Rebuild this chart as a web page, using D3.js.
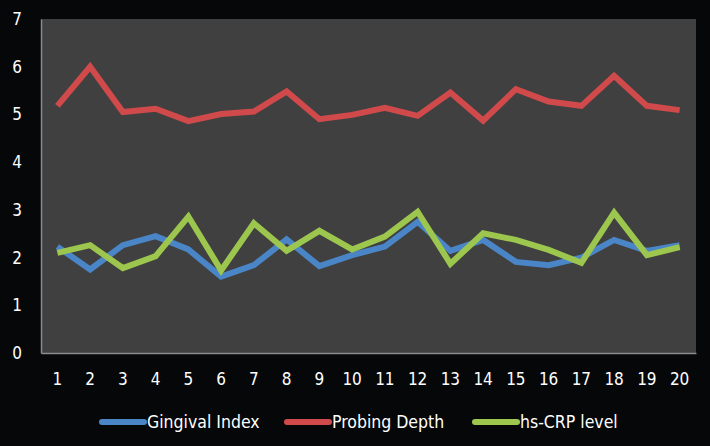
<!DOCTYPE html>
<html>
<head>
<meta charset="utf-8">
<script src="https://cdn.jsdelivr.net/npm/d3@7"></script>
<style>
  html, body { margin: 0; padding: 0; background: #050708; }
  svg { display: block; }
</style>
</head>
<body>
<div id="chart"></div>
<script>
const categories = d3.range(1, 21).map(String)
const gingivalIndex = [2.23, 1.75, 2.26, 2.45, 2.17, 1.6, 1.84, 2.38, 1.82, 2.05, 2.23, 2.75, 2.14, 2.37, 1.91, 1.84, 2.0, 2.37, 2.14, 2.26]
const probingDepth = [5.18, 6.0, 5.05, 5.12, 4.86, 5.01, 5.06, 5.48, 4.9, 4.99, 5.14, 4.97, 5.46, 4.87, 5.53, 5.27, 5.18, 5.81, 5.18, 5.09]
const hsCrpLevel = [2.1, 2.26, 1.78, 2.03, 2.86, 1.73, 2.72, 2.14, 2.56, 2.17, 2.44, 2.96, 1.87, 2.51, 2.37, 2.16, 1.89, 2.94, 2.05, 2.22]
const yTicks = [0, 1, 2, 3, 4, 5, 6, 7]

const seriesNames = ['Gingival Index', 'Probing Depth', 'hs-CRP level']
const colors = ['#4a86c7', '#d04a4b', '#9cc64e']
const series = [gingivalIndex, probingDepth, hsCrpLevel]

const W = 710
const H = 446
const margin = { top: 19, right: 14, bottom: 93, left: 41 }
const font = "'Liberation Sans Narrow', 'DejaVu Sans Condensed', sans-serif"

const svg = d3.select('#chart')
  .append('svg')
  .attr('width', W)
  .attr('height', H)

svg.append('rect')
  .attr('width', W)
  .attr('height', H)
  .attr('fill', '#050708')

const xScale = d3.scaleBand()
  .domain(categories)
  .range([margin.left, W - margin.right])

const yScale = d3.scaleLinear()
  .domain([0, 7])
  .range([H - margin.bottom, margin.top])

// plot area
svg.append('rect')
  .attr('x', margin.left)
  .attr('y', margin.top)
  .attr('width', W - margin.left - margin.right)
  .attr('height', H - margin.top - margin.bottom)
  .attr('fill', '#404040')

const yAxis = d3.axisLeft(yScale)
  .tickValues(yTicks)
  .tickFormat(d3.format('d'))
  .tickSize(0)
  .tickPadding(19)
const xAxis = d3.axisBottom(xScale).tickSize(0).tickPadding(20)

const gy = svg.append('g')
  .attr('transform', `translate(${margin.left}, 0)`)
  .call(yAxis)
gy.select('.domain').attr('stroke', '#8a8a8a').attr('stroke-width', 1.5)

const gx = svg.append('g')
  .attr('transform', `translate(0, ${H - margin.bottom})`)
  .call(xAxis)
gx.select('.domain').attr('stroke', '#8a8a8a').attr('stroke-width', 1.5)

svg.selectAll('.tick text')
  .attr('fill', '#ffffff')
  .style('font-family', font)
  .style('font-size', '17px')

const line = d3.line()
  .x((d, i) => xScale(categories[i]) + xScale.bandwidth() / 2)
  .y((d) => yScale(d))

series.forEach((values, i) => {
  svg.append('path')
    .attr('d', line(values))
    .attr('fill', 'none')
    .attr('stroke', colors[i])
    .attr('stroke-width', 6)
    .attr('stroke-linejoin', 'miter')
})

// legend
const legendX = [102, 287, 475]
const legend = svg.append('g').attr('transform', 'translate(0, 422)')
seriesNames.forEach((name, i) => {
  legend.append('line')
    .attr('x1', legendX[i])
    .attr('x2', legendX[i] + 42)
    .attr('stroke', colors[i])
    .attr('stroke-width', 6)
    .attr('stroke-linecap', 'round')
  legend.append('text')
    .attr('x', legendX[i] + 45)
    .attr('dy', '0.35em')
    .attr('fill', '#ffffff')
    .style('font-family', font)
    .style('font-size', '17.5px')
    .text(name)
})
</script>
</body>
</html>
